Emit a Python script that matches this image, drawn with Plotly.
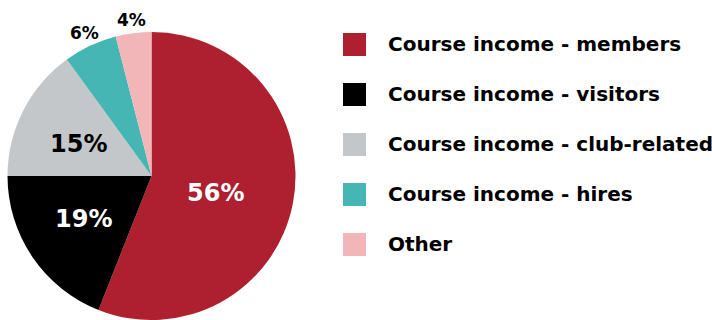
import math
import plotly.graph_objects as go

# Income split
categories = [
    "Course income - members",
    "Course income - visitors",
    "Course income - club-related",
    "Course income - hires",
    "Other",
]
shares = [56, 19, 15, 6, 4]
colors = ["#AE1F30", "#000000", "#C3C7C9", "#45B6B3", "#F2B6B9"]
label_colors = ["#FFFFFF", "#FFFFFF", "#000000", "#000000", "#000000"]
label_sizes = [24, 24, 24, 17, 17]
label_radius = [0.45, 0.57, 0.57, 1.10, 1.09]  # fraction of pie radius
label_nudge = [-5, 3, -5, 0, 0]  # vertical pixel nudge (positive = up)

W, H = 712, 320
FONT = "DejaVu Sans"

# Pie placement in pixels
cx, cy, R = 151.5, 176.0, 144.0


def px(x):
    return min(max(x / W, 0.0), 1.0)


def py(y):
    return min(max(1 - y / H, 0.0), 1.0)


fig = go.Figure(
    go.Pie(
        labels=categories,
        values=shares,
        sort=False,
        direction="clockwise",
        rotation=0,
        marker=dict(colors=colors, line=dict(width=0)),
        textinfo="none",
        hoverinfo="label+percent",
        domain=dict(x=[px(cx - R), px(cx + R)], y=[py(cy + R), py(cy - R)]),
        showlegend=False,
    )
)

# Percentage labels placed at slice mid-angles
total = sum(shares)
cum = 0
annotations = []
for v, tc, ts, rf, nd in zip(shares, label_colors, label_sizes, label_radius, label_nudge):
    mid = (cum + v / 2) / total * 2 * math.pi
    cum += v
    x = cx + rf * R * math.sin(mid)
    y = cy - rf * R * math.cos(mid)
    annotations.append(
        dict(
            x=px(x), y=py(y), xref="paper", yref="paper",
            text=f"<b>{v}%</b>", showarrow=False,
            font=dict(family=FONT, size=ts, color=tc),
            xanchor="center", yanchor="middle", yshift=nd,
        )
    )

# Custom legend with large swatches
shapes = []
for i, (cat, col) in enumerate(zip(categories, colors)):
    yc = 44.5 + i * 50
    shapes.append(
        dict(
            type="rect", xref="paper", yref="paper",
            x0=px(343), x1=px(366), y0=py(yc + 11.5), y1=py(yc - 11.5),
            fillcolor=col, line=dict(width=0),
        )
    )
    annotations.append(
        dict(
            x=px(386), y=py(yc - 1), xref="paper", yref="paper",
            text=f"<b>{cat}</b>", showarrow=False,
            font=dict(family=FONT, size=20, color="#000000"),
            xanchor="left", yanchor="middle",
        )
    )

fig.update_layout(
    width=W, height=H,
    margin=dict(l=0, r=0, t=0, b=0),
    paper_bgcolor="#FFFFFF",
    plot_bgcolor="#FFFFFF",
    annotations=annotations,
    shapes=shapes,
)

fig.write_html("out.html")
